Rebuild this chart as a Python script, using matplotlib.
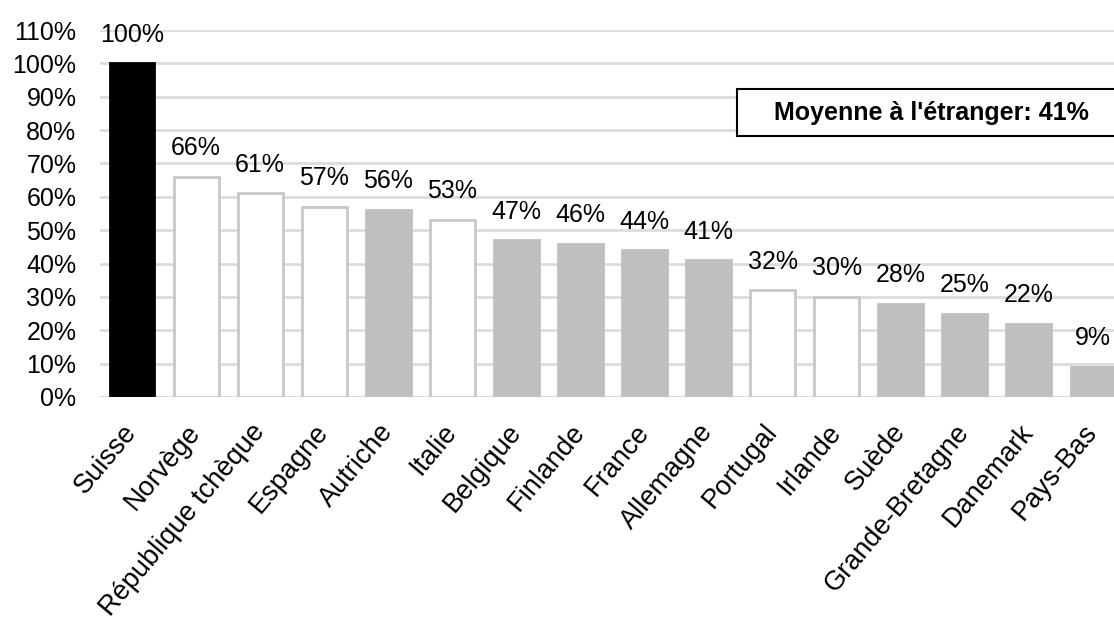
import matplotlib
matplotlib.use("Agg")
import matplotlib.pyplot as plt
from matplotlib.patches import Rectangle
import numpy as np

pays = ["Suisse", "Norvège", "République tchèque", "Espagne", "Autriche", "Italie",
        "Belgique", "Finlande", "France", "Allemagne", "Portugal", "Irlande",
        "Suède", "Grande-Bretagne", "Danemark", "Pays-Bas"]
valeurs = [100, 66, 61, 57, 56, 53, 47, 46, 44, 41, 32, 30, 28, 25, 22, 9]
groupe = ["ch", "blanc", "blanc", "blanc", "gris", "blanc", "gris", "gris", "gris",
          "gris", "blanc", "blanc", "gris", "gris", "gris", "gris"]
moyenne = 41

plt.rcParams['font.family'] = ['Liberation Sans', 'DejaVu Sans']

couleurs = {"ch": ("black", "black"), "blanc": ("white", "#c8c8c8"), "gris": ("#bfbfbf", "#bfbfbf")}

W, H = 1114, 639
fig = plt.figure(figsize=(W / 100, H / 100), dpi=100)
# l'axe dépasse un peu à droite : la dernière barre est coupée dans l'original
ax = fig.add_axes([100 / W, 1 - 397 / H, 1025 / W, 367 / H])

x = np.arange(len(pays))
for i, v in enumerate(valeurs):
    fc, ec = couleurs[groupe[i]]
    ax.bar(x[i], v, width=0.7, color=fc, edgecolor=ec, linewidth=2, zorder=3)
    ax.text(x[i], v + 5, f"{v}%", ha="center", va="bottom", fontsize=18, zorder=4)

ax.set_xlim(-0.5, len(pays) - 0.5)
ax.set_ylim(0, 110)
ax.set_yticks(np.arange(0, 111, 10))
ax.set_yticklabels([f"{t}%" for t in range(0, 111, 10)], fontsize=18)
ax.yaxis.grid(True, color="#dcdcdc", linewidth=2, zorder=0)
ax.tick_params(axis="y", length=0, pad=17)
ax.tick_params(axis="x", length=0, pad=22)
ax.set_xticks(x)
ax.set_xticklabels(pays, rotation=50, ha="right", va="center", rotation_mode="anchor",
                   fontsize=19.5)
for s in ax.spines.values():
    s.set_visible(False)
ax.axhline(0, color="#dcdcdc", linewidth=2, zorder=1)

# encadré de la moyenne, coupé au bord droit comme sur l'original
fig.patches.append(Rectangle((737 / W, 1 - 136 / H), 390 / W, 47 / H, transform=fig.transFigure,
                             facecolor="white", edgecolor="black", linewidth=1.5, zorder=5))
fig.text(931 / W, 1 - 113 / H, f"Moyenne à l'étranger: {moyenne}%", ha="center", va="center",
         fontsize=18, fontweight="bold", zorder=6)

fig.savefig("out.png", dpi=100)
